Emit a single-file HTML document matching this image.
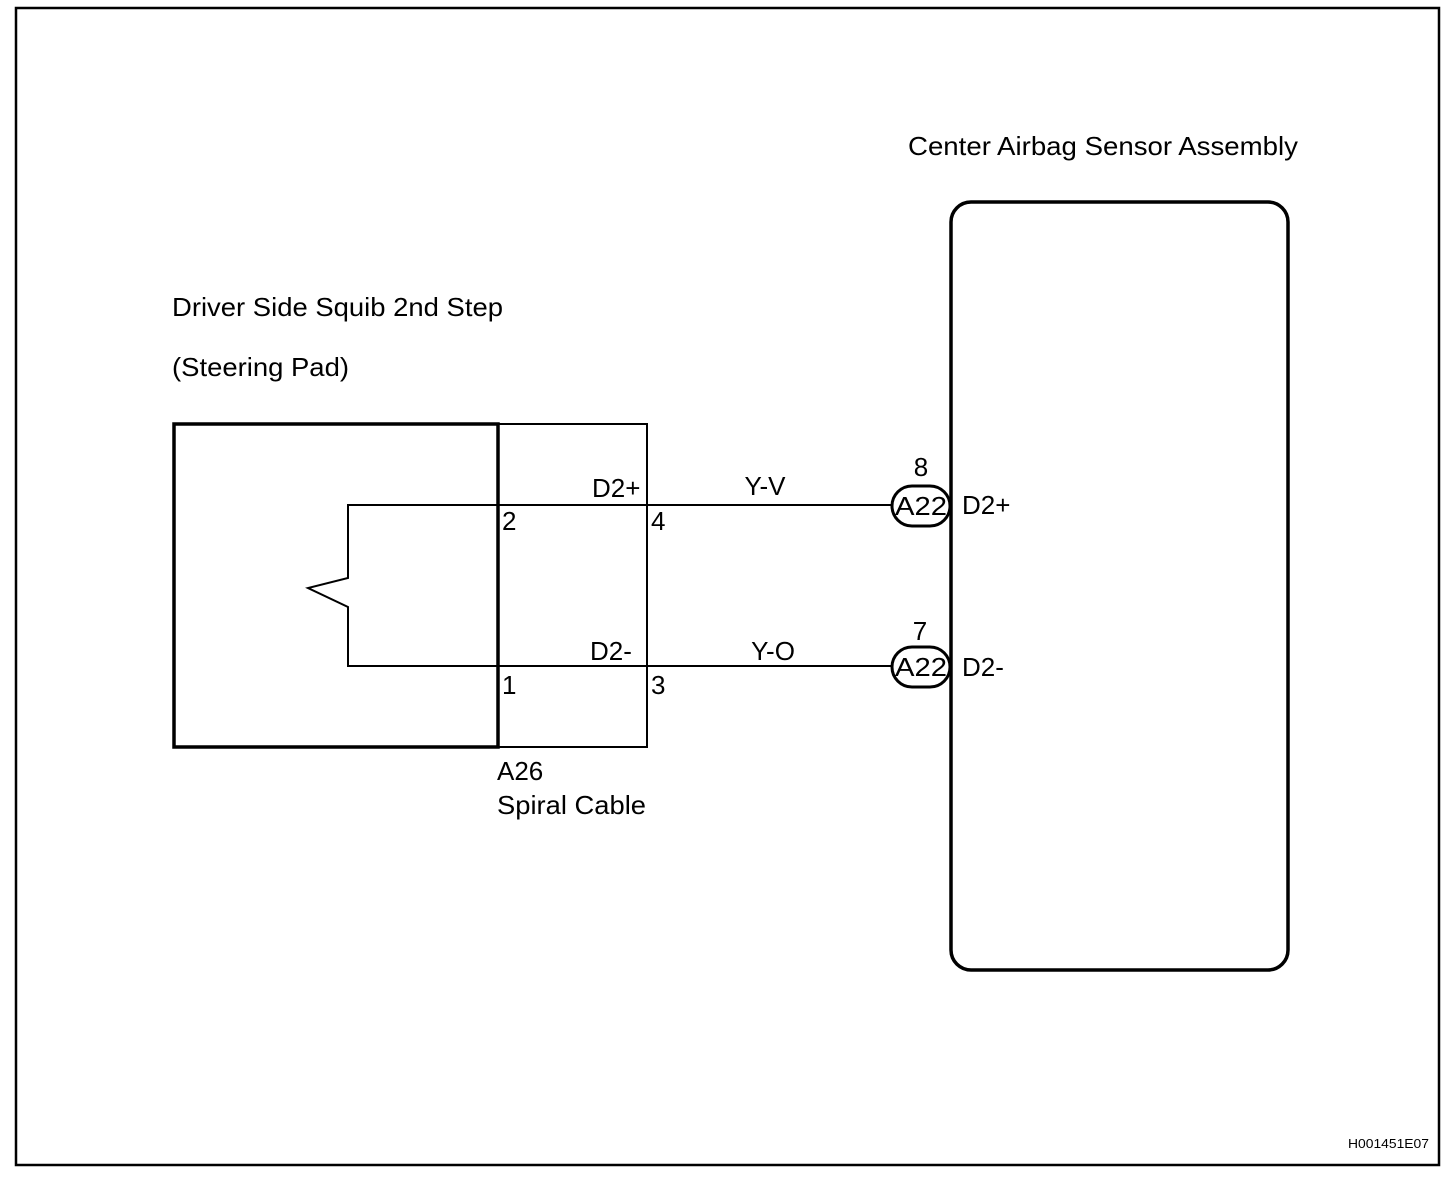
<!DOCTYPE html>
<html><head><style>body{margin:0;background:#fff}svg{display:block}text{font-family:"Liberation Sans",Arial,sans-serif;fill:#000}</style></head><body>
<svg width="1456" height="1184" viewBox="0 0 1456 1184" xmlns="http://www.w3.org/2000/svg">
<rect x="16" y="8" width="1423" height="1157" fill="none" stroke="#000" stroke-width="2.5"/>
<text x="908" y="155" font-size="26" textLength="390" lengthAdjust="spacingAndGlyphs">Center Airbag Sensor Assembly</text>
<text x="172" y="316" font-size="26" textLength="331" lengthAdjust="spacingAndGlyphs">Driver Side Squib 2nd Step</text>
<text x="172" y="376" font-size="26" textLength="177" lengthAdjust="spacingAndGlyphs">(Steering Pad)</text>
<rect x="174" y="424" width="324" height="323" fill="none" stroke="#000" stroke-width="3.5"/>
<rect x="498" y="424" width="149" height="323" fill="none" stroke="#000" stroke-width="2"/>
<polyline points="892,505 348,505 348,578 308,588 348,607 348,666 892,666" fill="none" stroke="#000" stroke-width="2"/>
<rect x="951" y="202" width="337" height="768" rx="20" fill="none" stroke="#000" stroke-width="3.5"/>
<rect x="892" y="486" width="58" height="40" rx="20" fill="#fff" stroke="#000" stroke-width="3"/>
<rect x="892" y="647" width="58" height="40" rx="20" fill="#fff" stroke="#000" stroke-width="3"/>
<g font-size="26">
<text x="921" y="515" text-anchor="middle" textLength="52" lengthAdjust="spacingAndGlyphs">A22</text>
<text x="921" y="676" text-anchor="middle" textLength="52" lengthAdjust="spacingAndGlyphs">A22</text>
<text x="921" y="476" text-anchor="middle">8</text>
<text x="920" y="640" text-anchor="middle">7</text>
<text x="962" y="514">D2+</text>
<text x="962" y="676">D2-</text>
<text x="765" y="495" text-anchor="middle">Y-V</text>
<text x="773" y="660" text-anchor="middle">Y-O</text>
<text x="592" y="497">D2+</text>
<text x="590" y="660">D2-</text>
<text x="502" y="530">2</text>
<text x="651" y="530">4</text>
<text x="502" y="694">1</text>
<text x="651" y="694">3</text>
<text x="497" y="780">A26</text>
<text x="497" y="814" textLength="149" lengthAdjust="spacingAndGlyphs">Spiral Cable</text>
</g>
<text x="1429" y="1148" font-size="13" text-anchor="end" textLength="81" lengthAdjust="spacingAndGlyphs">H001451E07</text>
</svg>
</body></html>
